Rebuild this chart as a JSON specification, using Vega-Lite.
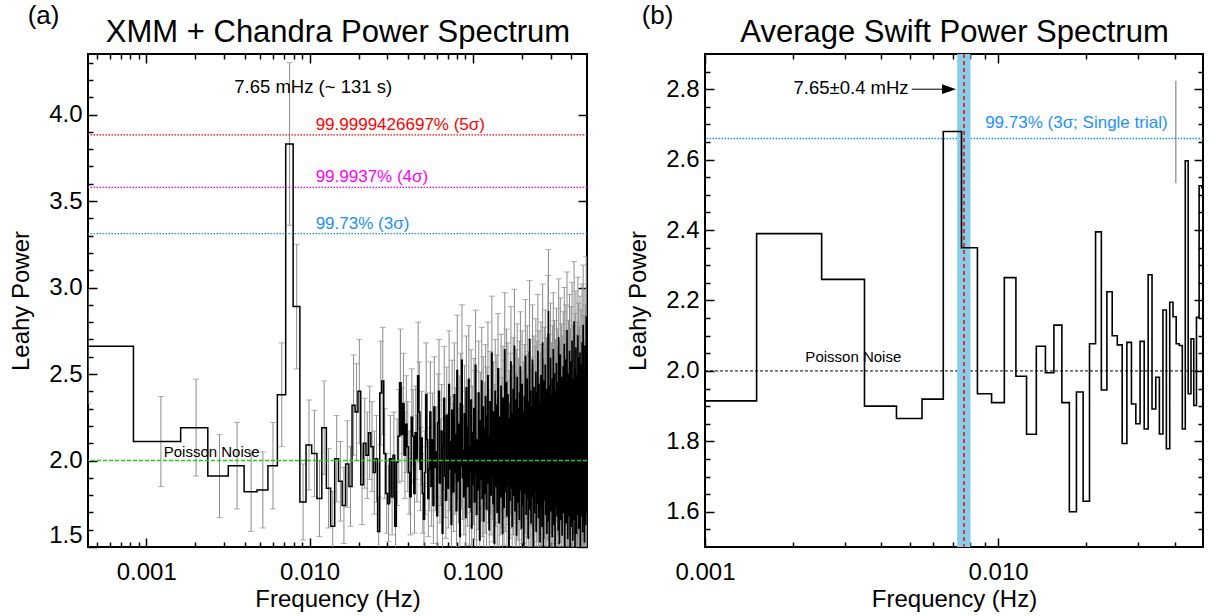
{
"$schema":"https://vega.github.io/schema/vega-lite/v6.json",
"background":"white",
"autosize":{"type":"none"},
"padding":{"left":88,"top":54,"right":1128,"bottom":562},
"bounds":"flush",
"spacing":118,
"config":{
"font":"Liberation Sans",
"view":{"stroke":"black","strokeWidth":2},
"axis":{"domain":false,"grid":false,"tickColor":"black","tickWidth":1.5,"labelColor":"black","titleColor":"black","labelFont":"Liberation Sans","titleFont":"Liberation Sans","labelFontSize":24,"titleFontSize":24,"titleFontWeight":"normal","labelOverlap":false},
"title":{"font":"Liberation Sans","fontWeight":"normal","color":"black"},
"text":{"font":"Liberation Sans"}
},
"datasets":{
"a":[
{"f":0.00044,"p":2.66,"e":0.33},{"f":0.00123,"p":2.11,"e":0.26},{"f":0.00202,"p":2.19,"e":0.28},{"f":0.00281,"p":1.91,"e":0.24},{"f":0.0036,"p":1.97,"e":0.25},{"f":0.00439,"p":1.82,"e":0.23},{"f":0.00518,"p":1.83,"e":0.22},{"f":0.00597,"p":1.97,"e":0.25},{"f":0.00676,"p":2.38,"e":0.3},{"f":0.00755,"p":3.83,"e":0.47},
{"f":0.00834,"p":2.89,"e":0.36},{"f":0.00913,"p":1.76,"e":0.22},{"f":0.00992,"p":2.09,"e":0.26},{"f":0.01071,"p":2.04,"e":0.25},{"f":0.0115,"p":1.78,"e":0.22},{"f":0.01229,"p":2.19,"e":0.27},{"f":0.01308,"p":1.84,"e":0.23},{"f":0.01387,"p":1.62,"e":0.2},{"f":0.01466,"p":2.01,"e":0.25},{"f":0.01545,"p":1.88,"e":0.23},
{"f":0.01624,"p":1.74,"e":0.22},{"f":0.01703,"p":1.98,"e":0.25},{"f":0.01782,"p":1.85,"e":0.23},{"f":0.01861,"p":2.32,"e":0.29},{"f":0.0194,"p":2.28,"e":0.28},{"f":0.02019,"p":2.4,"e":0.3},{"f":0.02098,"p":1.86,"e":0.23},{"f":0.02177,"p":2.1,"e":0.26},{"f":0.02256,"p":2.03,"e":0.25},{"f":0.02335,"p":2.16,"e":0.27},
{"f":0.02414,"p":2.08,"e":0.26},{"f":0.02493,"p":1.93,"e":0.24},{"f":0.02572,"p":2.01,"e":0.25},{"f":0.02651,"p":1.59,"e":0.2},{"f":0.0273,"p":2.39,"e":0.3},{"f":0.02809,"p":2.46,"e":0.31},{"f":0.02888,"p":2.04,"e":0.26},{"f":0.02967,"p":1.81,"e":0.23},{"f":0.03046,"p":1.75,"e":0.22},{"f":0.03125,"p":2.01,"e":0.25},
{"f":0.03204,"p":1.79,"e":0.22},{"f":0.03283,"p":2.03,"e":0.25},{"f":0.03362,"p":1.62,"e":0.2},{"f":0.03441,"p":1.99,"e":0.25},{"f":0.0352,"p":2.14,"e":0.27},{"f":0.03599,"p":2.45,"e":0.31},{"f":0.03678,"p":2.15,"e":0.27},{"f":0.03757,"p":2.33,"e":0.29},{"f":0.03836,"p":2.03,"e":0.25},{"f":0.03915,"p":2.21,"e":0.28},
{"f":0.03994,"p":2.08,"e":0.26},{"f":0.04073,"p":1.93,"e":0.24},{"f":0.04152,"p":1.79,"e":0.22},{"f":0.04231,"p":2.25,"e":0.28},{"f":0.0431,"p":2.14,"e":0.27},{"f":0.04389,"p":1.81,"e":0.23},{"f":0.04468,"p":2.16,"e":0.27},{"f":0.04547,"p":2.01,"e":0.25},{"f":0.04626,"p":2.49,"e":0.31},{"f":0.04705,"p":2.28,"e":0.29},
{"f":0.04784,"p":1.95,"e":0.24},{"f":0.04863,"p":2.13,"e":0.27},{"f":0.04942,"p":1.81,"e":0.23},{"f":0.05021,"p":1.66,"e":0.21},{"f":0.051,"p":1.93,"e":0.24},{"f":0.05179,"p":2.38,"e":0.3},{"f":0.05258,"p":2.12,"e":0.27},{"f":0.05337,"p":1.78,"e":0.22},{"f":0.05416,"p":1.95,"e":0.24},{"f":0.05495,"p":2.28,"e":0.29},
{"f":0.05574,"p":1.85,"e":0.23},{"f":0.05653,"p":2.12,"e":0.27},{"f":0.05732,"p":1.74,"e":0.22},{"f":0.05811,"p":2.31,"e":0.29},{"f":0.0589,"p":1.96,"e":0.25},{"f":0.05969,"p":2.05,"e":0.26},{"f":0.06048,"p":1.68,"e":0.21},{"f":0.06127,"p":2.22,"e":0.28},{"f":0.06206,"p":2.4,"e":0.3},{"f":0.06285,"p":1.87,"e":0.23},
{"f":0.06364,"p":1.99,"e":0.25},{"f":0.06443,"p":2.17,"e":0.27},{"f":0.06522,"p":1.58,"e":0.2},{"f":0.06601,"p":2.09,"e":0.26},{"f":0.0668,"p":2.36,"e":0.3},{"f":0.06759,"p":1.91,"e":0.24},{"f":0.06838,"p":1.77,"e":0.22},{"f":0.06917,"p":2.26,"e":0.28},{"f":0.06996,"p":2.02,"e":0.25},{"f":0.07075,"p":1.84,"e":0.23},
{"f":0.07154,"p":2.44,"e":0.31},{"f":0.07233,"p":1.95,"e":0.24},{"f":0.07312,"p":2.11,"e":0.26},{"f":0.07391,"p":1.63,"e":0.2},{"f":0.0747,"p":2.29,"e":0.29},{"f":0.07549,"p":2.07,"e":0.26},{"f":0.07628,"p":1.82,"e":0.23},{"f":0.07707,"p":2.38,"e":0.3},{"f":0.07786,"p":1.93,"e":0.24},{"f":0.07865,"p":2.15,"e":0.27},
{"f":0.07944,"p":1.71,"e":0.21},{"f":0.08023,"p":2.52,"e":0.32},{"f":0.08102,"p":2.04,"e":0.26},{"f":0.08181,"p":1.88,"e":0.24},{"f":0.0826,"p":2.21,"e":0.28},{"f":0.08339,"p":1.56,"e":0.2},{"f":0.08418,"p":2.33,"e":0.29},{"f":0.08497,"p":1.97,"e":0.25},{"f":0.08576,"p":2.58,"e":0.32},{"f":0.08655,"p":1.9,"e":0.24},
{"f":0.08734,"p":2.06,"e":0.26},{"f":0.08813,"p":1.79,"e":0.22},{"f":0.08892,"p":2.27,"e":0.28},{"f":0.08971,"p":2.13,"e":0.27},{"f":0.0905,"p":1.67,"e":0.21},{"f":0.09129,"p":2.42,"e":0.3},{"f":0.09208,"p":1.98,"e":0.25},{"f":0.09287,"p":1.85,"e":0.23},{"f":0.09366,"p":2.19,"e":0.27},{"f":0.09445,"p":2.47,"e":0.31},
{"f":0.09524,"p":1.73,"e":0.22},{"f":0.09603,"p":2.08,"e":0.26},{"f":0.09682,"p":1.94,"e":0.24},{"f":0.09761,"p":2.35,"e":0.29},{"f":0.0984,"p":1.61,"e":0.2},{"f":0.09919,"p":2.16,"e":0.27},{"f":0.09998,"p":2.01,"e":0.25},{"f":0.10077,"p":1.86,"e":0.23},{"f":0.10156,"p":2.3,"e":0.29},{"f":0.10235,"p":1.76,"e":0.22},
{"f":0.10314,"p":2.24,"e":0.28},{"f":0.10393,"p":2.55,"e":0.32},{"f":0.10472,"p":1.92,"e":0.24},{"f":0.10551,"p":1.69,"e":0.21},{"f":0.1063,"p":2.12,"e":0.27},{"f":0.10709,"p":2.03,"e":0.25},{"f":0.10788,"p":1.83,"e":0.23},{"f":0.10867,"p":2.39,"e":0.3},{"f":0.10946,"p":1.97,"e":0.25},{"f":0.11025,"p":1.54,"e":0.19},
{"f":0.11104,"p":2.23,"e":0.28},{"f":0.11183,"p":2.1,"e":0.26},{"f":0.11262,"p":1.89,"e":0.24},{"f":0.11341,"p":2.46,"e":0.31},{"f":0.1142,"p":1.78,"e":0.22},{"f":0.11499,"p":2.05,"e":0.26},{"f":0.11578,"p":2.31,"e":0.29},{"f":0.11657,"p":1.65,"e":0.21},{"f":0.11736,"p":1.99,"e":0.25},{"f":0.11815,"p":2.18,"e":0.27},
{"f":0.11894,"p":1.81,"e":0.23},{"f":0.11973,"p":2.37,"e":0.3},{"f":0.12052,"p":2.0,"e":0.25},{"f":0.12131,"p":1.72,"e":0.22},{"f":0.1221,"p":2.26,"e":0.28},{"f":0.12289,"p":1.95,"e":0.24},{"f":0.12368,"p":2.49,"e":0.31},{"f":0.12447,"p":1.87,"e":0.23},{"f":0.12526,"p":2.14,"e":0.27},{"f":0.12605,"p":1.6,"e":0.2},
{"f":0.12684,"p":2.07,"e":0.26},{"f":0.12763,"p":2.34,"e":0.29},{"f":0.12842,"p":1.93,"e":0.24},{"f":0.12921,"p":1.8,"e":0.23},{"f":0.13,"p":2.21,"e":0.28},{"f":0.13079,"p":2.62,"e":0.33},{"f":0.13158,"p":1.9,"e":0.24},{"f":0.13237,"p":2.02,"e":0.25},{"f":0.13316,"p":1.75,"e":0.22},{"f":0.13395,"p":2.28,"e":0.29},
{"f":0.13474,"p":1.98,"e":0.25},{"f":0.13553,"p":1.52,"e":0.19},{"f":0.13632,"p":2.17,"e":0.27},{"f":0.13711,"p":2.4,"e":0.3},{"f":0.1379,"p":1.85,"e":0.23},{"f":0.13869,"p":2.09,"e":0.26},{"f":0.13948,"p":1.96,"e":0.25},{"f":0.14027,"p":2.32,"e":0.29},{"f":0.14106,"p":1.7,"e":0.21},{"f":0.14185,"p":2.13,"e":0.27},
{"f":0.14264,"p":2.53,"e":0.32},{"f":0.14343,"p":1.88,"e":0.24},{"f":0.14422,"p":2.04,"e":0.26},{"f":0.14501,"p":1.64,"e":0.21},{"f":0.1458,"p":2.25,"e":0.28},{"f":0.14659,"p":1.94,"e":0.24},{"f":0.14738,"p":2.11,"e":0.26},{"f":0.14817,"p":1.79,"e":0.22},{"f":0.14896,"p":2.43,"e":0.3},{"f":0.14975,"p":2.01,"e":0.25},
{"f":0.15054,"p":1.84,"e":0.23},{"f":0.15133,"p":2.2,"e":0.28},{"f":0.15212,"p":1.58,"e":0.2},{"f":0.15291,"p":2.36,"e":0.3},{"f":0.1537,"p":1.97,"e":0.25},{"f":0.15449,"p":2.06,"e":0.26},{"f":0.15528,"p":1.73,"e":0.22},{"f":0.15607,"p":2.29,"e":0.29},{"f":0.15686,"p":2.64,"e":0.33},{"f":0.15765,"p":1.91,"e":0.24},
{"f":0.15844,"p":2.15,"e":0.27},{"f":0.15923,"p":1.82,"e":0.23},{"f":0.16002,"p":2.03,"e":0.25},{"f":0.16081,"p":2.45,"e":0.31},{"f":0.1616,"p":1.68,"e":0.21},{"f":0.16239,"p":2.19,"e":0.27},{"f":0.16318,"p":1.95,"e":0.24},{"f":0.16397,"p":2.38,"e":0.3},{"f":0.16476,"p":1.86,"e":0.23},{"f":0.16555,"p":2.08,"e":0.26},
{"f":0.16634,"p":1.49,"e":0.19},{"f":0.16713,"p":2.24,"e":0.28},{"f":0.16792,"p":2.0,"e":0.25},{"f":0.16871,"p":1.77,"e":0.22},{"f":0.1695,"p":2.33,"e":0.29},{"f":0.17029,"p":1.93,"e":0.24},{"f":0.17108,"p":2.57,"e":0.32},{"f":0.17187,"p":2.1,"e":0.26},{"f":0.17266,"p":1.84,"e":0.23},{"f":0.17345,"p":2.02,"e":0.25},
{"f":0.17424,"p":1.62,"e":0.2},{"f":0.17503,"p":2.27,"e":0.28},{"f":0.17582,"p":1.99,"e":0.25},{"f":0.17661,"p":2.41,"e":0.3},{"f":0.1774,"p":1.8,"e":0.23},{"f":0.17819,"p":2.14,"e":0.27},{"f":0.17898,"p":1.9,"e":0.24},{"f":0.17977,"p":2.66,"e":0.33},{"f":0.18056,"p":1.96,"e":0.25},{"f":0.18135,"p":1.71,"e":0.21},
{"f":0.18214,"p":2.22,"e":0.28},{"f":0.18293,"p":2.05,"e":0.26},{"f":0.18372,"p":1.87,"e":0.23},{"f":0.18451,"p":2.35,"e":0.29},{"f":0.1853,"p":1.57,"e":0.2},{"f":0.18609,"p":2.12,"e":0.27},{"f":0.18688,"p":2.48,"e":0.31},{"f":0.18767,"p":1.92,"e":0.24},{"f":0.18846,"p":2.01,"e":0.25},{"f":0.18925,"p":1.76,"e":0.22},
{"f":0.19004,"p":2.3,"e":0.29},{"f":0.19083,"p":1.98,"e":0.25},{"f":0.19162,"p":2.17,"e":0.27},{"f":0.19241,"p":1.66,"e":0.21},{"f":0.1932,"p":2.39,"e":0.3},{"f":0.19399,"p":1.89,"e":0.24},{"f":0.19478,"p":2.07,"e":0.26},{"f":0.19557,"p":2.54,"e":0.32},{"f":0.19636,"p":1.83,"e":0.23},{"f":0.19715,"p":2.23,"e":0.28},
{"f":0.19794,"p":1.95,"e":0.24},{"f":0.19873,"p":1.61,"e":0.2},{"f":0.19952,"p":2.13,"e":0.27},{"f":0.20031,"p":2.44,"e":0.31},{"f":0.2011,"p":1.88,"e":0.24},{"f":0.20189,"p":2.04,"e":0.26},{"f":0.20268,"p":1.74,"e":0.22},{"f":0.20347,"p":2.28,"e":0.29},{"f":0.20426,"p":2.0,"e":0.25},{"f":0.20505,"p":1.51,"e":0.19},
{"f":0.20584,"p":2.19,"e":0.27},{"f":0.20663,"p":2.37,"e":0.3},{"f":0.20742,"p":1.93,"e":0.24},{"f":0.20821,"p":2.09,"e":0.26},{"f":0.209,"p":1.81,"e":0.23},{"f":0.20979,"p":2.6,"e":0.33},{"f":0.21058,"p":1.97,"e":0.25},{"f":0.21137,"p":2.15,"e":0.27},{"f":0.21216,"p":1.69,"e":0.21},{"f":0.21295,"p":2.32,"e":0.29},
{"f":0.21374,"p":1.9,"e":0.24},{"f":0.21453,"p":2.06,"e":0.26},{"f":0.21532,"p":2.47,"e":0.31},{"f":0.21611,"p":1.78,"e":0.22},{"f":0.2169,"p":2.21,"e":0.28},{"f":0.21769,"p":1.94,"e":0.24},{"f":0.21848,"p":1.55,"e":0.19},{"f":0.21927,"p":2.34,"e":0.29},{"f":0.22006,"p":2.02,"e":0.25},{"f":0.22085,"p":1.86,"e":0.23},
{"f":0.22164,"p":2.18,"e":0.27},{"f":0.22243,"p":2.7,"e":0.34},{"f":0.22322,"p":1.92,"e":0.24},{"f":0.22401,"p":1.72,"e":0.22},{"f":0.2248,"p":2.11,"e":0.26},{"f":0.22559,"p":2.4,"e":0.3},{"f":0.22638,"p":1.99,"e":0.25},{"f":0.22717,"p":1.64,"e":0.21},{"f":0.22796,"p":2.25,"e":0.28},{"f":0.22875,"p":2.05,"e":0.26},
{"f":0.22954,"p":1.85,"e":0.23},{"f":0.23033,"p":2.31,"e":0.29},{"f":0.23112,"p":1.96,"e":0.25},{"f":0.23191,"p":2.58,"e":0.32},{"f":0.2327,"p":1.79,"e":0.22},{"f":0.23349,"p":2.1,"e":0.26},{"f":0.23428,"p":1.47,"e":0.18},{"f":0.23507,"p":2.27,"e":0.28},{"f":0.23586,"p":2.03,"e":0.25},{"f":0.23665,"p":2.42,"e":0.3},
{"f":0.23744,"p":1.88,"e":0.24},{"f":0.23823,"p":1.7,"e":0.21},{"f":0.23902,"p":2.16,"e":0.27},{"f":0.23981,"p":1.98,"e":0.25},{"f":0.2406,"p":2.36,"e":0.3},{"f":0.24139,"p":1.83,"e":0.23},{"f":0.24218,"p":2.08,"e":0.26},{"f":0.24297,"p":2.51,"e":0.31},{"f":0.24376,"p":1.91,"e":0.24},{"f":0.24455,"p":1.59,"e":0.2},
{"f":0.24534,"p":2.22,"e":0.28},{"f":0.24613,"p":2.0,"e":0.25},{"f":0.24692,"p":2.39,"e":0.3},{"f":0.24771,"p":1.75,"e":0.22},{"f":0.2485,"p":2.13,"e":0.27},{"f":0.24929,"p":1.94,"e":0.24},{"f":0.25008,"p":2.63,"e":0.33},{"f":0.25087,"p":1.87,"e":0.23},{"f":0.25166,"p":2.05,"e":0.26},{"f":0.25245,"p":1.67,"e":0.21},
{"f":0.25324,"p":2.29,"e":0.29},{"f":0.25403,"p":2.44,"e":0.31},{"f":0.25482,"p":1.93,"e":0.24},{"f":0.25561,"p":1.8,"e":0.23},{"f":0.2564,"p":2.2,"e":0.28},{"f":0.25719,"p":1.97,"e":0.25},{"f":0.25798,"p":1.53,"e":0.19},{"f":0.25877,"p":2.33,"e":0.29},{"f":0.25956,"p":2.09,"e":0.26},{"f":0.26035,"p":1.89,"e":0.24},
{"f":0.26114,"p":2.49,"e":0.31},{"f":0.26193,"p":1.73,"e":0.22},{"f":0.26272,"p":2.15,"e":0.27},{"f":0.26351,"p":2.01,"e":0.25},{"f":0.2643,"p":2.37,"e":0.3},{"f":0.26509,"p":1.62,"e":0.2},{"f":0.26588,"p":2.24,"e":0.28},{"f":0.26667,"p":1.95,"e":0.24},{"f":0.26746,"p":2.68,"e":0.34},{"f":0.26825,"p":1.84,"e":0.23},
{"f":0.26904,"p":2.07,"e":0.26},{"f":0.26983,"p":1.99,"e":0.25},{"f":0.27062,"p":1.45,"e":0.18},{"f":0.27141,"p":2.3,"e":0.29},{"f":0.2722,"p":2.12,"e":0.27},{"f":0.27299,"p":1.9,"e":0.24},{"f":0.27378,"p":2.46,"e":0.31},{"f":0.27457,"p":1.77,"e":0.22},{"f":0.27536,"p":2.18,"e":0.27},{"f":0.27615,"p":2.04,"e":0.26},
{"f":0.27694,"p":1.86,"e":0.23},{"f":0.27773,"p":2.55,"e":0.32},{"f":0.27852,"p":1.96,"e":0.25},{"f":0.27931,"p":1.69,"e":0.21},{"f":0.2801,"p":2.26,"e":0.28},{"f":0.28089,"p":2.1,"e":0.26},{"f":0.28168,"p":1.82,"e":0.23},{"f":0.28247,"p":2.41,"e":0.3},{"f":0.28326,"p":2.0,"e":0.25},{"f":0.28405,"p":1.58,"e":0.2},
{"f":0.28484,"p":2.21,"e":0.28},{"f":0.28563,"p":1.92,"e":0.24},{"f":0.28642,"p":2.35,"e":0.29},{"f":0.28721,"p":1.76,"e":0.22},{"f":0.288,"p":2.14,"e":0.27},{"f":0.28879,"p":2.73,"e":0.34},{"f":0.28958,"p":1.88,"e":0.24},{"f":0.29037,"p":2.86,"e":0.36},{"f":0.29116,"p":1.65,"e":0.21},{"f":0.29195,"p":2.28,"e":0.29},
{"f":0.29274,"p":1.98,"e":0.25},{"f":0.29353,"p":2.08,"e":0.26},{"f":0.29432,"p":1.5,"e":0.19},{"f":0.29511,"p":2.43,"e":0.3},{"f":0.2959,"p":1.94,"e":0.24},{"f":0.29669,"p":2.17,"e":0.27},{"f":0.29748,"p":1.81,"e":0.23},{"f":0.29827,"p":2.32,"e":0.29},{"f":0.29906,"p":2.59,"e":0.32},{"f":0.29985,"p":1.9,"e":0.24},
{"f":0.30064,"p":2.03,"e":0.25},{"f":0.30143,"p":1.71,"e":0.21},{"f":0.30222,"p":2.25,"e":0.28},{"f":0.30301,"p":1.97,"e":0.25},{"f":0.3038,"p":2.38,"e":0.3},{"f":0.30459,"p":1.85,"e":0.23},{"f":0.30538,"p":2.11,"e":0.26},{"f":0.30617,"p":1.56,"e":0.2},{"f":0.30696,"p":2.47,"e":0.31},{"f":0.30775,"p":2.02,"e":0.25},
{"f":0.30854,"p":1.93,"e":0.24},{"f":0.30933,"p":2.2,"e":0.28},{"f":0.31012,"p":1.78,"e":0.22},{"f":0.31091,"p":2.64,"e":0.33},{"f":0.3117,"p":1.99,"e":0.25},{"f":0.31249,"p":2.12,"e":0.27},{"f":0.31328,"p":1.63,"e":0.2},{"f":0.31407,"p":2.34,"e":0.29},{"f":0.31486,"p":1.89,"e":0.24},{"f":0.31565,"p":2.06,"e":0.26},
{"f":0.31644,"p":2.5,"e":0.31},{"f":0.31723,"p":1.83,"e":0.23},{"f":0.31802,"p":2.16,"e":0.27},{"f":0.31881,"p":1.42,"e":0.18},{"f":0.3196,"p":2.29,"e":0.29},{"f":0.32039,"p":1.95,"e":0.24},{"f":0.32118,"p":2.4,"e":0.3},{"f":0.32197,"p":1.74,"e":0.22},{"f":0.32276,"p":2.09,"e":0.26},{"f":0.32355,"p":2.01,"e":0.25},
{"f":0.32434,"p":1.87,"e":0.23},{"f":0.32513,"p":2.56,"e":0.32},{"f":0.32592,"p":1.92,"e":0.24},{"f":0.32671,"p":2.23,"e":0.28},{"f":0.3275,"p":1.68,"e":0.21},{"f":0.32829,"p":2.13,"e":0.27},{"f":0.32908,"p":2.36,"e":0.3},{"f":0.32987,"p":1.97,"e":0.25},{"f":0.33066,"p":1.8,"e":0.23},{"f":0.33145,"p":2.45,"e":0.31},
{"f":0.33224,"p":2.04,"e":0.26},{"f":0.33303,"p":1.6,"e":0.2},{"f":0.33382,"p":2.19,"e":0.27},{"f":0.33461,"p":1.91,"e":0.24},{"f":0.3354,"p":2.71,"e":0.34},{"f":0.33619,"p":1.84,"e":0.23},{"f":0.33698,"p":2.07,"e":0.26},{"f":0.33777,"p":2.3,"e":0.29},{"f":0.33856,"p":1.52,"e":0.19},{"f":0.33935,"p":2.15,"e":0.27},
{"f":0.34014,"p":1.98,"e":0.25},{"f":0.34093,"p":2.39,"e":0.3},{"f":0.34172,"p":1.75,"e":0.22},{"f":0.34251,"p":2.02,"e":0.25},{"f":0.3433,"p":2.61,"e":0.33},{"f":0.34409,"p":1.88,"e":0.24},{"f":0.34488,"p":2.24,"e":0.28},{"f":0.34567,"p":1.94,"e":0.24},{"f":0.34646,"p":1.66,"e":0.21},{"f":0.34725,"p":2.33,"e":0.29},
{"f":0.34804,"p":2.1,"e":0.26},{"f":0.34883,"p":1.82,"e":0.23},{"f":0.34962,"p":2.48,"e":0.31},{"f":0.35041,"p":1.96,"e":0.25},{"f":0.3512,"p":2.17,"e":0.27},{"f":0.35199,"p":1.57,"e":0.2},{"f":0.35278,"p":2.27,"e":0.28},{"f":0.35357,"p":2.05,"e":0.26},{"f":0.35436,"p":1.9,"e":0.24},{"f":0.35515,"p":2.42,"e":0.3},
{"f":0.35594,"p":1.79,"e":0.22},{"f":0.35673,"p":2.11,"e":0.26},{"f":0.35752,"p":2.54,"e":0.32},{"f":0.35831,"p":1.86,"e":0.23},{"f":0.3591,"p":2.0,"e":0.25},{"f":0.35989,"p":1.7,"e":0.21},{"f":0.36068,"p":2.35,"e":0.29},{"f":0.36147,"p":2.14,"e":0.27},{"f":0.36226,"p":1.93,"e":0.24},{"f":0.36305,"p":2.67,"e":0.33},
{"f":0.36384,"p":1.81,"e":0.23},{"f":0.36463,"p":2.22,"e":0.28},{"f":0.36542,"p":1.48,"e":0.19},{"f":0.36621,"p":2.06,"e":0.26},{"f":0.367,"p":2.44,"e":0.31},{"f":0.36779,"p":1.95,"e":0.24},{"f":0.36858,"p":1.77,"e":0.22},{"f":0.36937,"p":2.31,"e":0.29},{"f":0.37016,"p":2.03,"e":0.25},{"f":0.37095,"p":1.89,"e":0.24},
{"f":0.37174,"p":2.58,"e":0.32},{"f":0.37253,"p":1.64,"e":0.21},{"f":0.37332,"p":2.18,"e":0.27},{"f":0.37411,"p":1.99,"e":0.25},{"f":0.3749,"p":2.37,"e":0.3},{"f":0.37569,"p":1.85,"e":0.23},{"f":0.37648,"p":2.09,"e":0.26},{"f":0.37727,"p":2.75,"e":0.34},{"f":0.37806,"p":1.92,"e":0.24},{"f":0.37885,"p":1.73,"e":0.22},
{"f":0.37964,"p":2.26,"e":0.28},{"f":0.38043,"p":2.01,"e":0.25},{"f":0.38122,"p":1.55,"e":0.19},{"f":0.38201,"p":2.4,"e":0.3},{"f":0.3828,"p":1.97,"e":0.25},{"f":0.38359,"p":2.13,"e":0.27},{"f":0.38438,"p":1.83,"e":0.23},{"f":0.38517,"p":2.5,"e":0.31},{"f":0.38596,"p":2.07,"e":0.26},{"f":0.38675,"p":1.68,"e":0.21},
{"f":0.38754,"p":2.21,"e":0.28},{"f":0.38833,"p":1.94,"e":0.24},{"f":0.38912,"p":2.34,"e":0.29},{"f":0.38991,"p":1.8,"e":0.23},{"f":0.3907,"p":2.63,"e":0.33},{"f":0.39149,"p":2.04,"e":0.26},{"f":0.39228,"p":1.87,"e":0.23},{"f":0.39307,"p":2.16,"e":0.27},{"f":0.39386,"p":1.46,"e":0.18},{"f":0.39465,"p":2.29,"e":0.29},
{"f":0.39544,"p":1.98,"e":0.25},{"f":0.39623,"p":2.45,"e":0.31},{"f":0.39702,"p":1.76,"e":0.22},{"f":0.39781,"p":2.1,"e":0.26},{"f":0.3986,"p":1.91,"e":0.24},{"f":0.39939,"p":2.57,"e":0.32},{"f":0.40018,"p":2.02,"e":0.25},{"f":0.40097,"p":1.62,"e":0.2},{"f":0.40176,"p":2.24,"e":0.28},{"f":0.40255,"p":1.95,"e":0.24},
{"f":0.40334,"p":2.38,"e":0.3},{"f":0.40413,"p":1.84,"e":0.23},{"f":0.40492,"p":2.69,"e":0.34},{"f":0.40571,"p":2.08,"e":0.26},{"f":0.4065,"p":1.71,"e":0.21},{"f":0.40729,"p":2.19,"e":0.27},{"f":0.40808,"p":1.99,"e":0.25},{"f":0.40887,"p":2.32,"e":0.29},{"f":0.40966,"p":1.54,"e":0.19},{"f":0.41045,"p":2.12,"e":0.27},
{"f":0.41124,"p":2.47,"e":0.31},{"f":0.41203,"p":1.88,"e":0.24},{"f":0.41282,"p":2.03,"e":0.25},{"f":0.41361,"p":1.79,"e":0.22},{"f":0.4144,"p":2.41,"e":0.3},{"f":0.41519,"p":1.93,"e":0.24},{"f":0.41598,"p":2.15,"e":0.27},{"f":0.41677,"p":2.8,"e":0.35},{"f":0.41756,"p":1.86,"e":0.23},{"f":0.41835,"p":1.66,"e":0.21},
{"f":0.41914,"p":2.27,"e":0.28},{"f":0.41993,"p":2.05,"e":0.26},{"f":0.42072,"p":2.36,"e":0.3},{"f":0.42151,"p":1.9,"e":0.24},{"f":0.4223,"p":1.5,"e":0.19},{"f":0.42309,"p":2.22,"e":0.28},{"f":0.42388,"p":2.53,"e":0.32},{"f":0.42467,"p":1.96,"e":0.25},{"f":0.42546,"p":1.82,"e":0.23},{"f":0.42625,"p":2.14,"e":0.27},
{"f":0.42704,"p":2.0,"e":0.25},{"f":0.42783,"p":2.65,"e":0.33},{"f":0.42862,"p":1.74,"e":0.22},{"f":0.42941,"p":2.09,"e":0.26},{"f":0.4302,"p":1.92,"e":0.24},{"f":0.43099,"p":2.43,"e":0.3},{"f":0.43178,"p":1.58,"e":0.2},{"f":0.43257,"p":2.3,"e":0.29},{"f":0.43336,"p":2.06,"e":0.26},{"f":0.43415,"p":1.85,"e":0.23},
{"f":0.43494,"p":2.18,"e":0.27},{"f":0.43573,"p":2.49,"e":0.31},{"f":0.43652,"p":1.97,"e":0.25},{"f":0.43731,"p":1.69,"e":0.21},{"f":0.4381,"p":2.25,"e":0.28},{"f":0.43889,"p":2.01,"e":0.25},{"f":0.43968,"p":2.72,"e":0.34},{"f":0.44047,"p":1.89,"e":0.24},{"f":0.44126,"p":2.11,"e":0.26},{"f":0.44205,"p":1.77,"e":0.22},
{"f":0.44284,"p":2.37,"e":0.3},{"f":0.44363,"p":1.94,"e":0.24},{"f":0.44442,"p":2.59,"e":0.32},{"f":0.44521,"p":1.61,"e":0.2},{"f":0.446,"p":2.2,"e":0.28},{"f":0.44679,"p":2.04,"e":0.26},{"f":0.44758,"p":1.83,"e":0.23},{"f":0.44837,"p":2.33,"e":0.29},{"f":0.44916,"p":1.99,"e":0.25},{"f":0.44995,"p":2.46,"e":0.31},
{"f":0.45074,"p":1.72,"e":0.22},{"f":0.45153,"p":2.13,"e":0.27},{"f":0.45232,"p":1.91,"e":0.24},{"f":0.45311,"p":2.62,"e":0.33},{"f":0.4539,"p":1.86,"e":0.23},{"f":0.45469,"p":2.07,"e":0.26},{"f":0.45548,"p":1.44,"e":0.18},{"f":0.45627,"p":2.28,"e":0.29},{"f":0.45706,"p":2.42,"e":0.3},{"f":0.45785,"p":1.95,"e":0.24},
{"f":0.45864,"p":2.16,"e":0.27},{"f":0.45943,"p":1.8,"e":0.23},{"f":0.46022,"p":2.55,"e":0.32},{"f":0.46101,"p":2.02,"e":0.25},{"f":0.4618,"p":1.68,"e":0.21},{"f":0.46259,"p":2.23,"e":0.28},{"f":0.46338,"p":1.98,"e":0.25},{"f":0.46417,"p":2.38,"e":0.3},{"f":0.46496,"p":1.87,"e":0.23},{"f":0.46575,"p":2.1,"e":0.26},
{"f":0.46654,"p":2.68,"e":0.34},{"f":0.46733,"p":1.76,"e":0.22},{"f":0.46812,"p":2.19,"e":0.27},{"f":0.46891,"p":1.93,"e":0.24},{"f":0.4697,"p":2.47,"e":0.31},{"f":0.47049,"p":1.59,"e":0.2},{"f":0.47128,"p":2.31,"e":0.29},{"f":0.47207,"p":2.06,"e":0.26},{"f":0.47286,"p":1.9,"e":0.24},{"f":0.47365,"p":2.78,"e":0.35},
{"f":0.47444,"p":1.83,"e":0.23},{"f":0.47523,"p":2.14,"e":0.27},{"f":0.47602,"p":2.0,"e":0.25},{"f":0.47681,"p":1.65,"e":0.21},{"f":0.4776,"p":2.36,"e":0.3},{"f":0.47839,"p":1.96,"e":0.25},{"f":0.47918,"p":2.52,"e":0.32},{"f":0.47997,"p":1.81,"e":0.23},{"f":0.48076,"p":2.24,"e":0.28},{"f":0.48155,"p":2.09,"e":0.26},
{"f":0.48234,"p":1.53,"e":0.19},{"f":0.48313,"p":2.4,"e":0.3},{"f":0.48392,"p":1.94,"e":0.24},{"f":0.48471,"p":2.17,"e":0.27},{"f":0.4855,"p":2.66,"e":0.33},{"f":0.48629,"p":1.88,"e":0.24},{"f":0.48708,"p":2.03,"e":0.25},{"f":0.48787,"p":1.74,"e":0.22},{"f":0.48866,"p":2.29,"e":0.29},{"f":0.48945,"p":2.58,"e":0.32},
{"f":0.49024,"p":1.92,"e":0.24},{"f":0.49103,"p":2.12,"e":0.27},{"f":0.49182,"p":1.63,"e":0.2},{"f":0.49261,"p":2.44,"e":0.31},{"f":0.4934,"p":1.99,"e":0.25},{"f":0.49419,"p":2.21,"e":0.28},{"f":0.49498,"p":2.83,"e":0.35},{"f":0.49577,"p":1.85,"e":0.23},{"f":0.49656,"p":2.07,"e":0.26},{"f":0.49735,"p":1.7,"e":0.21},
{"f":0.49814,"p":2.34,"e":0.29},{"f":0.49893,"p":2.49,"e":0.31},{"f":0.49972,"p":1.97,"e":0.25}
],
"b":[
{"lo":0.001,"p":1.915},{"lo":0.0015,"p":2.39},{"lo":0.0025,"p":2.26},{"lo":0.0035,"p":1.9},{"lo":0.0045,"p":1.865},{"lo":0.0055,"p":1.92},{"lo":0.0065,"p":2.68},{"lo":0.0075,"p":2.35},{"lo":0.0085,"p":1.935},{"lo":0.0095,"p":1.91},
{"lo":0.0105,"p":2.265},{"lo":0.0115,"p":1.985},{"lo":0.0125,"p":1.82},{"lo":0.0135,"p":2.07},{"lo":0.0145,"p":1.995},{"lo":0.0155,"p":2.13},{"lo":0.0165,"p":1.91},{"lo":0.0175,"p":1.6},{"lo":0.0185,"p":1.94},{"lo":0.0195,"p":1.63},
{"lo":0.0205,"p":2.077},{"lo":0.0215,"p":2.395},{"lo":0.0225,"p":1.946},{"lo":0.0235,"p":2.225},{"lo":0.0245,"p":2.1},{"lo":0.0255,"p":2.074},{"lo":0.0265,"p":1.794},{"lo":0.0275,"p":2.081},{"lo":0.0285,"p":1.906},{"lo":0.0295,"p":1.85},
{"lo":0.0305,"p":2.084},{"lo":0.0315,"p":1.835},{"lo":0.0325,"p":2.273},{"lo":0.0335,"p":1.892},{"lo":0.0345,"p":1.982},{"lo":0.0355,"p":1.821},{"lo":0.0365,"p":2.173},{"lo":0.0375,"p":1.779},{"lo":0.0385,"p":2.195},{"lo":0.0395,"p":2.154},
{"lo":0.0405,"p":2.077},{"lo":0.0415,"p":2.072},{"lo":0.0425,"p":1.835},{"lo":0.0435,"p":2.597},{"lo":0.0445,"p":1.935},{"lo":0.0455,"p":2.091},{"lo":0.0465,"p":1.902},{"lo":0.0475,"p":2.152},{"lo":0.0485,"p":2.526},{"lo":0.0495,"p":2.52},
{"lo":0.05,"p":2.52}
]
},
"hconcat":[
{
"width":499,"height":493,
"title":{"text":"(a)","anchor":"start","frame":"bounds","fontSize":26,"baseline":"alphabetic","offset":-6,"dx":18,"dy":28},
"resolve":{"axis":{"x":"independent","y":"independent"}},
"layer":[
{"data":{"name":"a"},
"mark":{"type":"errorbar","clip":true,"rule":{"color":"#8c8c8c","strokeWidth":1},"ticks":{"color":"#8c8c8c","size":6,"thickness":1}},
"encoding":{
"x":{"field":"f","type":"quantitative","scale":{"type":"log","domain":[0.00044,0.5],"nice":false},"axis":{"orient":"bottom","values":[0.001,0.01,0.1],"format":".3f","labelFlush":false,"tickSize":-9,"labelPadding":22,"title":"Frequency (Hz)","titlePadding":3}},
"y":{"field":"p","type":"quantitative","scale":{"domain":[1.5,4.35],"nice":false,"zero":false},"axis":{"orient":"left","values":[1.5,2,2.5,3,3.5,4],"format":".1f","labelFlush":true,"tickSize":-9,"labelPadding":15,"title":"Leahy Power","titlePadding":15}},
"yError":{"field":"e"}
}},
{"data":{"values":[{"f":0.00044,"p":2.66},{"f":0.000835,"p":2.11},{"f":0.001625,"p":2.19},{"f":0.00202,"p":2.19}]},
"mark":{"type":"line","interpolate":"step-after","color":"black","strokeWidth":1.5,"clip":true},
"encoding":{
"x":{"field":"f","type":"quantitative","scale":{"type":"log","domain":[0.00044,0.5],"nice":false},"axis":{"orient":"bottom","values":[0.0005,0.0006,0.0007,0.0008,0.0009,0.002,0.003,0.004,0.005,0.006,0.007,0.008,0.009,0.02,0.03,0.04,0.05,0.06,0.07,0.08,0.09,0.2,0.3,0.4],"tickSize":-5,"labels":false,"title":null}},
"y":{"field":"p","type":"quantitative","scale":{"domain":[1.5,4.35],"nice":false,"zero":false},"axis":{"orient":"left","values":[1.6,1.7,1.8,1.9,2.1,2.2,2.3,2.4,2.6,2.7,2.8,2.9,3.1,3.2,3.3,3.4,3.6,3.7,3.8,3.9,4.1,4.2,4.3],"tickSize":-5,"labels":false,"title":null}}
}},
{"data":{"name":"a"},"transform":[{"filter":"datum.f > 0.002"}],
"mark":{"type":"line","interpolate":"step","color":"black","strokeWidth":1.5,"clip":true},
"encoding":{
"x":{"field":"f","type":"quantitative","scale":{"type":"log","domain":[0.00044,0.5],"nice":false},"axis":{"orient":"top","values":[0.001,0.01,0.1],"tickSize":-9,"labels":false,"title":"XMM + Chandra Power Spectrum","titleFontSize":31,"titlePadding":12,"titleBaseline":"alphabetic"}},
"y":{"field":"p","type":"quantitative","scale":{"domain":[1.5,4.35],"nice":false,"zero":false},"axis":{"orient":"right","values":[1.5,2,2.5,3,3.5,4],"tickSize":-9,"labels":false,"title":null}}
}},
{"data":{"values":[{"lvl":"5σ","p":3.883,"t":"99.9999426697% (5σ)"},{"lvl":"4σ","p":3.579,"t":"99.9937% (4σ)"},{"lvl":"3σ","p":3.312,"t":"99.73% (3σ)"}]},
"layer":[
{"mark":{"type":"rule","strokeWidth":1.2,"strokeDash":[1.5,1.5]},
"encoding":{
"y":{"field":"p","type":"quantitative","scale":{"domain":[1.5,4.35],"nice":false,"zero":false},"axis":{"orient":"right","values":[1.6,1.7,1.8,1.9,2.1,2.2,2.3,2.4,2.6,2.7,2.8,2.9,3.1,3.2,3.3,3.4,3.6,3.7,3.8,3.9,4.1,4.2,4.3],"tickSize":-5,"labels":false,"title":null}},
"color":{"field":"lvl","type":"nominal","scale":{"domain":["5σ","4σ","3σ"],"range":["#ff0000","#ff00ff","#1e90ff"]},"legend":null}
}},
{"mark":{"type":"text","align":"left","baseline":"alphabetic","dy":-5,"fontSize":17},
"encoding":{
"x":{"datum":0.0109,"type":"quantitative","scale":{"type":"log","domain":[0.00044,0.5],"nice":false},"axis":null},
"y":{"field":"p","type":"quantitative","scale":{"domain":[1.5,4.35],"nice":false,"zero":false},"axis":null},
"text":{"field":"t"},
"color":{"field":"lvl","type":"nominal","scale":{"domain":["5σ","4σ","3σ"],"range":["#ff0000","#ff00ff","#1e90ff"]},"legend":null}
}}
]},
{"data":{"values":[{"f":0.00346,"p":4.126,"t":"7.65 mHz (~ 131 s)"}]},
"mark":{"type":"text","align":"left","baseline":"alphabetic","fontSize":18.5,"color":"black"},
"encoding":{
"x":{"field":"f","type":"quantitative","scale":{"type":"log","domain":[0.00044,0.5],"nice":false},"axis":{"orient":"top","values":[0.0005,0.0006,0.0007,0.0008,0.0009,0.002,0.003,0.004,0.005,0.006,0.007,0.008,0.009,0.02,0.03,0.04,0.05,0.06,0.07,0.08,0.09,0.2,0.3,0.4],"tickSize":-5,"labels":false,"title":null}},
"y":{"field":"p","type":"quantitative","scale":{"domain":[1.5,4.35],"nice":false,"zero":false},"axis":null},
"text":{"field":"t"}
}},
{"data":{"values":[{"f":0.00128,"p":2.02,"t":"Poisson  Noise"}]},
"mark":{"type":"text","align":"left","baseline":"alphabetic","fontSize":15,"color":"black"},
"encoding":{
"x":{"field":"f","type":"quantitative","scale":{"type":"log","domain":[0.00044,0.5],"nice":false},"axis":null},
"y":{"field":"p","type":"quantitative","scale":{"domain":[1.5,4.35],"nice":false,"zero":false},"axis":null},
"text":{"field":"t"}
}},
{"data":{"values":[{"p":2.0}]},
"mark":{"type":"rule","stroke":"#22cc22","strokeWidth":1.3,"strokeDash":[4,2]},
"encoding":{
"y":{"field":"p","type":"quantitative","scale":{"domain":[1.5,4.35],"nice":false,"zero":false},"axis":null}
}}
]
},
{
"width":498,"height":493,
"title":{"text":"(b)","anchor":"start","frame":"bounds","fontSize":26,"baseline":"alphabetic","offset":-6,"dx":15,"dy":28},
"resolve":{"axis":{"x":"independent","y":"independent"}},
"layer":[
{"data":{"values":[{"p":2.66}]},
"mark":{"type":"rule","strokeWidth":1.3,"stroke":"#1e90ff","strokeDash":[1.5,1.5]},
"encoding":{
"y":{"field":"p","type":"quantitative","scale":{"domain":[1.5,2.9],"nice":false,"zero":false},"axis":{"orient":"left","values":[1.55,1.65,1.7,1.75,1.85,1.9,1.95,2.05,2.1,2.15,2.25,2.3,2.35,2.45,2.5,2.55,2.65,2.7,2.75,2.85],"tickSize":-5,"labels":false,"title":null}}
}},
{"data":{"values":[{"p":2.0}]},
"mark":{"type":"rule","strokeWidth":1,"stroke":"black","strokeDash":[3,2]},
"encoding":{
"y":{"field":"p","type":"quantitative","scale":{"domain":[1.5,2.9],"nice":false,"zero":false},"axis":null}
}},
{"data":{"values":[{"lo":0.00725,"hi":0.00805}]},
"mark":{"type":"rect","color":"#87ceeb","opacity":1},
"encoding":{
"x":{"field":"lo","type":"quantitative","scale":{"type":"log","domain":[0.001,0.05],"nice":false},"axis":{"orient":"bottom","values":[0.002,0.003,0.004,0.005,0.006,0.007,0.008,0.009,0.02,0.03,0.04],"tickSize":-5,"labels":false,"title":null}},
"x2":{"field":"hi"}
}},
{"data":{"name":"b"},
"mark":{"type":"line","interpolate":"step-after","color":"black","strokeWidth":1.6,"clip":true},
"encoding":{
"x":{"field":"lo","type":"quantitative","scale":{"type":"log","domain":[0.001,0.05],"nice":false},"axis":{"orient":"bottom","values":[0.001,0.01],"format":".3f","labelFlush":false,"tickSize":-9,"labelPadding":22,"title":"Frequency (Hz)","titlePadding":3}},
"y":{"field":"p","type":"quantitative","scale":{"domain":[1.5,2.9],"nice":false,"zero":false},"axis":{"orient":"left","values":[1.6,1.8,2,2.2,2.4,2.6,2.8],"format":".1f","labelFlush":true,"tickSize":-9,"labelPadding":15,"title":"Leahy Power","titlePadding":15}}
}},
{"data":{"values":[{"f":0.00765}]},
"mark":{"type":"rule","color":"#ff0000","strokeWidth":1.5,"strokeDash":[4,3]},
"encoding":{
"x":{"field":"f","type":"quantitative","scale":{"type":"log","domain":[0.001,0.05],"nice":false},"axis":{"orient":"top","values":[0.001,0.01],"tickSize":-9,"labels":false,"title":"Average Swift Power Spectrum","titleFontSize":31,"titlePadding":12,"titleBaseline":"alphabetic"}}
}},
{"data":{"values":[{"f":0.0404,"lo":2.533,"hi":2.824}]},
"mark":{"type":"rule","color":"#707070","strokeWidth":1},
"encoding":{
"x":{"field":"f","type":"quantitative","scale":{"type":"log","domain":[0.001,0.05],"nice":false},"axis":{"orient":"top","values":[0.002,0.003,0.004,0.005,0.006,0.007,0.008,0.009,0.02,0.03,0.04],"tickSize":-5,"labels":false,"title":null}},
"y":{"field":"lo","type":"quantitative","scale":{"domain":[1.5,2.9],"nice":false,"zero":false},"axis":{"orient":"right","values":[1.6,1.8,2,2.2,2.4,2.6,2.8],"tickSize":-9,"labels":false,"title":null}},
"y2":{"field":"hi"}
}},
{"data":{"values":[{"a":0.00507,"b":0.0068,"p":2.8}]},
"mark":{"type":"rule","color":"black","strokeWidth":1},
"encoding":{
"x":{"field":"a","type":"quantitative","scale":{"type":"log","domain":[0.001,0.05],"nice":false},"axis":null},
"x2":{"field":"b"},
"y":{"field":"p","type":"quantitative","scale":{"domain":[1.5,2.9],"nice":false,"zero":false},"axis":{"orient":"right","values":[1.55,1.65,1.7,1.75,1.85,1.9,1.95,2.05,2.1,2.15,2.25,2.3,2.35,2.45,2.5,2.55,2.65,2.7,2.75,2.85],"tickSize":-5,"labels":false,"title":null}}
}},
{"data":{"values":[{"f":0.0068,"p":2.8}]},
"mark":{"type":"point","shape":"M -1 -0.7 L 1 0 L -1 0.7 Z","size":196,"filled":true,"color":"black","opacity":1},
"encoding":{
"x":{"field":"f","type":"quantitative","scale":{"type":"log","domain":[0.001,0.05],"nice":false},"axis":null},
"y":{"field":"p","type":"quantitative","scale":{"domain":[1.5,2.9],"nice":false,"zero":false},"axis":null}
}},
{"data":{"values":[{"f":0.00495,"p":2.786,"t":"7.65±0.4 mHz"}]},
"mark":{"type":"text","align":"right","baseline":"alphabetic","fontSize":18.5,"color":"black"},
"encoding":{
"x":{"field":"f","type":"quantitative","scale":{"type":"log","domain":[0.001,0.05],"nice":false},"axis":null},
"y":{"field":"p","type":"quantitative","scale":{"domain":[1.5,2.9],"nice":false,"zero":false},"axis":null},
"text":{"field":"t"}
}},
{"data":{"values":[{"f":0.0022,"p":2.025,"t":"Poisson  Noise"}]},
"mark":{"type":"text","align":"left","baseline":"alphabetic","fontSize":15,"color":"black"},
"encoding":{
"x":{"field":"f","type":"quantitative","scale":{"type":"log","domain":[0.001,0.05],"nice":false},"axis":null},
"y":{"field":"p","type":"quantitative","scale":{"domain":[1.5,2.9],"nice":false,"zero":false},"axis":null},
"text":{"field":"t"}
}},
{"data":{"values":[{"p":2.66,"t":"99.73% (3σ; Single trial)"}]},
"mark":{"type":"text","align":"left","baseline":"alphabetic","dy":-11,"fontSize":17,"color":"#1e90ff"},
"encoding":{
"x":{"datum":0.00903,"type":"quantitative","scale":{"type":"log","domain":[0.001,0.05],"nice":false},"axis":null},
"y":{"field":"p","type":"quantitative","scale":{"domain":[1.5,2.9],"nice":false,"zero":false},"axis":null},
"text":{"field":"t"}
}}
]
}
]
}
